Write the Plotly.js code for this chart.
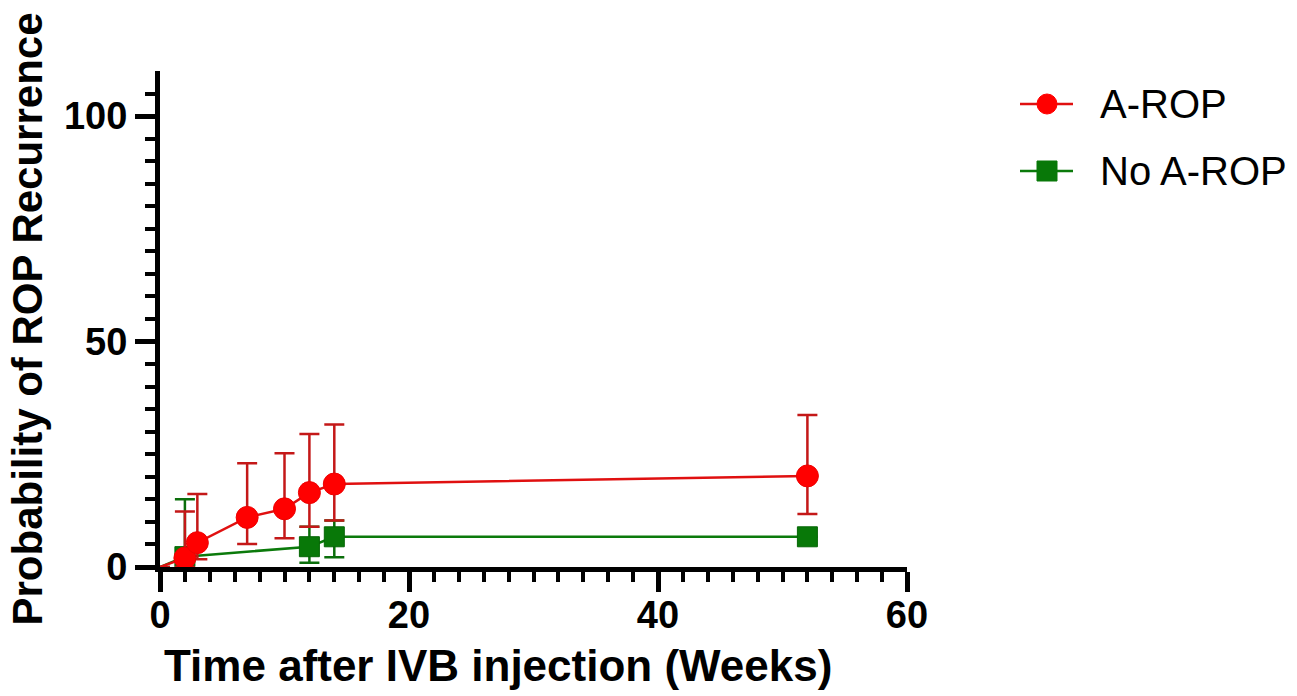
<!DOCTYPE html>
<html>
<head>
<meta charset="utf-8">
<script src="https://cdn.plot.ly/plotly-3.0.1.min.js"></script>
<style>html,body{margin:0;padding:0;background:#fff;}#chart{width:1297px;height:696px;}</style>
</head>
<body>
<div id="chart"></div>
<script>
// Time after injection (weeks)
const weeksAROP   = [0, 2, 3, 7, 10, 12, 14, 52];
const probAROP    = [0, 2.0, 5.4, 11.0, 12.9, 16.5, 18.4, 20.2];
const upperAROP   = [0, 12.3, 16.2, 23.0, 25.2, 29.5, 31.6, 33.7];
const lowerAROP   = [0, 0, 1.7, 5.1, 6.4, 8.9, 10.3, 11.75];

const weeksNoAROP = [0, 2, 12, 14, 52];
const probNoAROP  = [0, 2.3, 4.5, 6.7, 6.7];
const upperNoAROP = [0, 15.0, 8.9, 10.3, 6.7];
const lowerNoAROP = [0, 0, 0.95, 2.15, 6.7];

const xMajorTicks = [0, 20, 40, 60];
const xMinorTicks = [2,4,6,8,10,12,14,16,18,22,24,26,28,30,32,34,36,38,42,44,46,48,50,52,54,56,58];
const yMajorTicks = [0, 50, 100];
const yMinorTicks = [5,10,15,20,25,30,35,40,45,55,60,65,70,75,80,85,90,95,105];

const seriesNames = ['A-ROP', 'No A-ROP'];
const xTitle = 'Time after IVB injection (Weeks)';
const yTitle = 'Probability of ROP Recurrence';

const diffUp = (u, v) => u.map((x, i) => x - v[i]);
const diffDn = (l, v) => v.map((x, i) => x - l[i]);
const sizes = (xs, s) => xs.map(x => x === 0 ? 0 : s);

const FONT = 'Liberation Sans, Arial, sans-serif';
const RED = '#ff0000', RED_LINE = '#e01010', RED_ERR = '#c41818';
const GREEN = '#087808', GREEN_LINE = '#0b7a0b', GREEN_ERR = '#0b6e0b';

// plot area in pixels
const M = {l: 160, r: 390, t: 71, b: 129};
const PW = 1297 - M.l - M.r, PH = 696 - M.t - M.b;
const px = v => (v - M.l) / PW;        // pixel -> paper x
const py = v => (696 - M.b - v) / PH;  // pixel -> paper y

const greenTrace = {
  x: weeksNoAROP, y: probNoAROP, name: seriesNames[1],
  type: 'scatter', mode: 'lines+markers', showlegend: false,
  line: {color: GREEN_LINE, width: 2.5},
  marker: {symbol: 'square', size: sizes(weeksNoAROP, 20), color: GREEN, opacity: 1, line: {color: '#066606', width: 1}},
  error_y: {type: 'data', symmetric: false, array: diffUp(upperNoAROP, probNoAROP), arrayminus: diffDn(lowerNoAROP, probNoAROP), color: GREEN_ERR, thickness: 2.5, width: 10},
  cliponaxis: false
};
const redTrace = {
  x: weeksAROP, y: probAROP, name: seriesNames[0],
  type: 'scatter', mode: 'lines+markers', showlegend: false,
  line: {color: RED_LINE, width: 2.5},
  marker: {symbol: 'circle', size: sizes(weeksAROP, 22), color: RED, opacity: 1, line: {color: '#ee0000', width: 1}},
  error_y: {type: 'data', symmetric: false, array: diffUp(upperAROP, probAROP), arrayminus: diffDn(lowerAROP, probAROP), color: RED_ERR, thickness: 2.5, width: 10},
  cliponaxis: false
};

// manual legend (symbol line + marker + label)
const legendItems = [
  {name: seriesNames[0], yPix: 104, line: RED_LINE, fill: RED, shape: 'circle'},
  {name: seriesNames[1], yPix: 171, line: GREEN_LINE, fill: GREEN, shape: 'rect'}
];
const shapes = [], annotations = [];
legendItems.forEach(it => {
  const y = py(it.yPix);
  shapes.push({type: 'line', xref: 'paper', yref: 'paper', x0: px(1020), x1: px(1073), y0: y, y1: y,
    line: {color: it.line, width: 2.5}});
  shapes.push({type: it.shape, xref: 'paper', yref: 'paper', xsizemode: 'pixel', ysizemode: 'pixel',
    xanchor: px(1047), yanchor: y, x0: -10, x1: 10, y0: -10, y1: 10,
    fillcolor: it.fill, line: {color: it.fill, width: 1}});
  annotations.push({text: it.name, xref: 'paper', yref: 'paper', x: px(1098), y: y,
    xanchor: 'left', yanchor: 'middle', showarrow: false,
    font: {family: FONT, size: 40, color: '#000'}});
});
annotations.push({
  text: xTitle, xref: 'paper', yref: 'paper', x: 0.452, y: -0.198, xanchor: 'center', yanchor: 'middle',
  showarrow: false, font: {family: FONT, size: 44, color: '#000', weight: 'bold'}
});

const layout = {
  width: 1297, height: 696,
  paper_bgcolor: '#ffffff', plot_bgcolor: '#ffffff',
  margin: {l: M.l, r: M.r, t: M.t, b: M.b, autoexpand: false},
  showlegend: false,
  xaxis: {
    range: [0, 60], showgrid: false, zeroline: false,
    showline: true, linecolor: '#000', linewidth: 5,
    ticks: 'outside', tickmode: 'array', tickvals: xMajorTicks, ticktext: xMajorTicks.map(String),
    ticklen: 20, tickwidth: 5, tickcolor: '#000', ticklabelstandoff: -10,
    minor: {tickmode: 'array', tickvals: xMinorTicks, ticks: 'outside', ticklen: 10, tickwidth: 4, tickcolor: '#000', showgrid: false},
    tickfont: {family: FONT, size: 38, color: '#000', weight: 'bold'}
  },
  yaxis: {
    range: [0, 110], showgrid: false, zeroline: false,
    showline: true, linecolor: '#000', linewidth: 5,
    ticks: 'outside', tickmode: 'array', tickvals: yMajorTicks, ticktext: yMajorTicks.map(String),
    ticklen: 20, tickwidth: 5, tickcolor: '#000',
    minor: {tickmode: 'array', tickvals: yMinorTicks, ticks: 'outside', ticklen: 10, tickwidth: 4, tickcolor: '#000', showgrid: false},
    tickfont: {family: FONT, size: 38, color: '#000', weight: 'bold'},
    title: {text: yTitle, font: {family: FONT, size: 42, color: '#000', weight: 'bold'}, standoff: 10}
  },
  shapes: shapes,
  annotations: annotations
};

Plotly.newPlot('chart', [greenTrace, redTrace], layout, {displayModeBar: false, staticPlot: true});
</script>
</body>
</html>
